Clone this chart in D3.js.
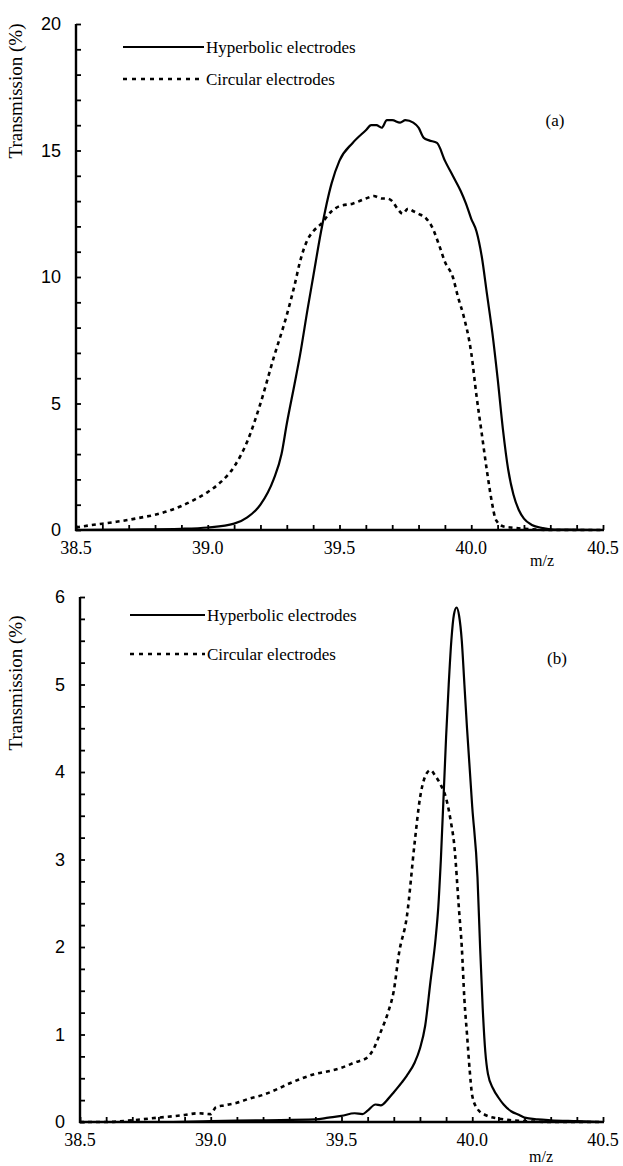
<!DOCTYPE html>
<html>
<head>
<meta charset="utf-8">
<script src="https://cdn.jsdelivr.net/npm/d3@7/dist/d3.min.js"></script>
<style>
  html, body { margin: 0; padding: 0; background: #fff; }
  svg { display: block; }
</style>
</head>
<body>
<svg id="chart" width="623" height="1166"></svg>
<script>
// ---------- Data ----------
const xTickLabels = ["38.5", "39.0", "39.5", "40.0", "40.5"];
const yTicksA = [0, 5, 10, 15, 20];
const yTicksB = [0, 1, 2, 3, 4, 5, 6];
const seriesNames = ["Hyperbolic electrodes", "Circular electrodes"];

// Panel (a) hyperbolic electrodes: [m/z, transmission %]
const hypA_x = [38.5, 38.7, 38.9, 39.0, 39.1, 39.15, 39.2, 39.25, 39.28, 39.3, 39.33, 39.35, 39.38, 39.4, 39.43, 39.47, 39.5, 39.55, 39.6, 39.62, 39.64, 39.66, 39.68, 39.7, 39.73, 39.75, 39.78, 39.8, 39.82, 39.84, 39.87, 39.9, 39.93, 39.96, 39.98, 40.0, 40.02, 40.04, 40.06, 40.08, 40.1, 40.12, 40.14, 40.16, 40.18, 40.2, 40.23, 40.27, 40.3, 40.4, 40.5];
const hypA_y = [0.0, 0.02, 0.05, 0.1, 0.25, 0.5, 1.0, 2.0, 3.0, 4.2, 5.8, 6.9, 8.8, 10.0, 11.8, 13.7, 14.6, 15.3, 15.8, 16.0, 16.0, 15.9, 16.2, 16.2, 16.1, 16.2, 16.1, 15.9, 15.5, 15.4, 15.3, 14.6, 14.0, 13.4, 12.9, 12.3, 11.8, 10.8, 9.3, 7.8, 6.0, 4.0, 2.4, 1.4, 0.8, 0.45, 0.2, 0.08, 0.03, 0.01, 0.0];

// Panel (a) circular electrodes
const cirA_x = [38.5, 38.55, 38.6, 38.65, 38.7, 38.75, 38.8, 38.85, 38.9, 38.95, 39.0, 39.05, 39.1, 39.15, 39.2, 39.25, 39.3, 39.33, 39.35, 39.38, 39.4, 39.43, 39.47, 39.5, 39.55, 39.6, 39.63, 39.66, 39.68, 39.7, 39.72, 39.74, 39.76, 39.78, 39.8, 39.83, 39.85, 39.88, 39.9, 39.93, 39.95, 39.97, 40.0, 40.02, 40.04, 40.06, 40.08, 40.09, 40.1, 40.12, 40.15, 40.2, 40.3, 40.5];
const cirA_y = [0.1, 0.18, 0.25, 0.32, 0.4, 0.5, 0.6, 0.75, 0.95, 1.2, 1.5, 1.9, 2.5, 3.5, 5.0, 6.8, 8.5, 9.7, 10.6, 11.5, 11.8, 12.1, 12.6, 12.8, 12.9, 13.1, 13.2, 13.1, 13.1, 13.0, 12.7, 12.5, 12.7, 12.6, 12.5, 12.3, 12.0, 11.2, 10.6, 10.0, 9.2, 8.5, 7.0, 5.3, 3.8, 2.3, 1.0, 0.5, 0.3, 0.15, 0.1, 0.05, 0.0, 0.0];

// Panel (b) hyperbolic electrodes
const hypB_x = [38.5, 38.8, 39.0, 39.2, 39.4, 39.45, 39.5, 39.55, 39.58, 39.6, 39.63, 39.65, 39.68, 39.7, 39.73, 39.75, 39.78, 39.8, 39.82, 39.84, 39.86, 39.87, 39.88, 39.9, 39.91, 39.92, 39.93, 39.94, 39.95, 39.96, 39.97, 39.98, 40.0, 40.02, 40.03, 40.04, 40.05, 40.06, 40.08, 40.1, 40.12, 40.15, 40.18, 40.2, 40.25, 40.3, 40.4, 40.5];
const hypB_y = [0.0, 0.0, 0.01, 0.02, 0.03, 0.05, 0.07, 0.1, 0.09, 0.13, 0.2, 0.19, 0.27, 0.34, 0.45, 0.53, 0.68, 0.84, 1.1, 1.6, 2.1, 2.45, 3.0, 4.4, 5.0, 5.5, 5.8, 5.88, 5.78, 5.5, 5.0, 4.5, 3.6, 2.8, 2.0, 1.3, 0.8, 0.55, 0.38, 0.28, 0.2, 0.12, 0.08, 0.05, 0.03, 0.02, 0.01, 0.0];

// Panel (b) circular electrodes
const cirB_x = [38.5, 38.6, 38.7, 38.8, 38.9, 38.95, 39.0, 39.02, 39.05, 39.1, 39.15, 39.2, 39.25, 39.3, 39.35, 39.4, 39.45, 39.5, 39.55, 39.6, 39.62, 39.65, 39.68, 39.7, 39.72, 39.75, 39.78, 39.8, 39.82, 39.84, 39.86, 39.88, 39.9, 39.92, 39.93, 39.95, 39.96, 39.97, 39.98, 39.99, 40.0, 40.02, 40.05, 40.1, 40.15, 40.2, 40.3, 40.5];
const cirB_y = [0.0, 0.0, 0.02, 0.05, 0.08, 0.1, 0.09, 0.17, 0.19, 0.22, 0.27, 0.31, 0.37, 0.44, 0.5, 0.55, 0.58, 0.62, 0.68, 0.74, 0.82, 1.03, 1.27, 1.5, 1.93, 2.35, 3.2, 3.7, 3.95, 4.02, 3.95, 3.85, 3.7, 3.4, 3.2, 2.4, 2.0, 1.4, 1.0, 0.6, 0.3, 0.15, 0.08, 0.04, 0.02, 0.01, 0.0, 0.0];

// ---------- Drawing ----------
const svg = d3.select("#chart");
const serif = "'Liberation Serif', 'Times New Roman', serif";
const sans = "'Liberation Sans', Arial, sans-serif";

function zip(xs, ys) { return xs.map((x, i) => [x, ys[i]]); }

function panel(cfg) {
  const x = d3.scaleLinear().domain([38.5, 40.5]).range([cfg.left, cfg.right]);
  const y = d3.scaleLinear().domain([0, cfg.ymax]).range([cfg.bottom, cfg.top]);
  const g = svg.append("g");

  // x axis: minor ticks every 0.1 pointing up
  const xMinor = d3.range(0, 21).map(i => 38.5 + i * 0.1);
  const xAxis = d3.axisBottom(x).tickValues(xMinor).tickSize(-5).tickFormat("");
  const gx = g.append("g").attr("transform", `translate(0,${cfg.bottom})`).call(xAxis);
  gx.select(".domain").attr("stroke", "#000").attr("stroke-width", 2.4).attr("d", `M${cfg.left - 1},0H${cfg.right + 1}`);
  gx.selectAll(".tick line").attr("stroke", "#000").attr("stroke-width", 1.8);
  // x labels
  g.selectAll("text.xl").data(xTickLabels).enter().append("text")
    .attr("class", "xl")
    .attr("x", d => x(+d))
    .attr("y", cfg.bottom + cfg.xLabelDy)
    .attr("text-anchor", "middle")
    .attr("font-family", serif).attr("font-size", 18)
    .text(d => d);
  g.append("text")
    .attr("x", cfg.mzX).attr("y", cfg.bottom + cfg.xLabelDy + cfg.mzDy)
    .attr("text-anchor", "middle")
    .attr("font-family", serif).attr("font-size", 16)
    .text("m/z");

  // y axis: minor ticks pointing right
  const yMinor = d3.range(0, Math.round(cfg.ymax / cfg.yMinorStep) + 1).map(i => i * cfg.yMinorStep);
  const yAxis = d3.axisLeft(y).tickValues(yMinor).tickSize(-5).tickFormat("");
  const gy = g.append("g").attr("transform", `translate(${cfg.left},0)`).call(yAxis);
  gy.select(".domain").attr("stroke", "#000").attr("stroke-width", 2.4).attr("d", `M0,${cfg.top}V${cfg.bottom + 1}`);
  gy.selectAll(".tick line").attr("stroke", "#000").attr("stroke-width", 1.8);
  g.selectAll("text.yl").data(cfg.yTicks).enter().append("text")
    .attr("class", "yl")
    .attr("x", cfg.left - 15)
    .attr("y", d => y(d))
    .attr("dy", "0.35em")
    .attr("text-anchor", "end")
    .attr("font-family", sans).attr("font-size", 18)
    .text(d => d);

  // y title
  g.append("text")
    .attr("transform", `translate(${cfg.titleX},${cfg.titleY}) rotate(-90)`)
    .attr("text-anchor", "middle")
    .attr("font-family", serif).attr("font-size", 19)
    .text("Transmission (%)");

  // lines
  const line = d3.line().x(d => x(d[0])).y(d => y(d[1])).curve(d3.curveMonotoneX);
  g.append("path").datum(zip(cfg.hx, cfg.hy))
    .attr("fill", "none").attr("stroke", "#000").attr("stroke-width", 2.2)
    .attr("stroke-linejoin", "round").attr("d", line);
  g.append("path").datum(zip(cfg.cx, cfg.cy))
    .attr("fill", "none").attr("stroke", "#000").attr("stroke-width", 2.6)
    .attr("stroke-dasharray", "4,4").attr("d", line);

  // legend
  const lg = g.append("g");
  seriesNames.forEach((name, i) => {
    const ly = cfg.legY + i * cfg.legGap;
    lg.append("line")
      .attr("x1", cfg.legX1).attr("x2", cfg.legX2)
      .attr("y1", ly).attr("y2", ly)
      .attr("stroke", "#000").attr("stroke-width", i === 0 ? 2.2 : 2.6)
      .attr("stroke-dasharray", i === 0 ? null : "4,5");
    lg.append("text")
      .attr("x", cfg.legX2 + 2).attr("y", ly).attr("dy", "0.35em")
      .attr("font-family", serif).attr("font-size", 17)
      .text(name);
  });
  g.append("text")
    .attr("x", cfg.tagX).attr("y", cfg.tagY).attr("dy", "0.35em")
    .attr("text-anchor", "middle")
    .attr("font-family", serif).attr("font-size", 17)
    .text(cfg.tag);
}

panel({
  left: 76, right: 603, top: 24, bottom: 530, ymax: 20, yMinorStep: 1,
  yTicks: yTicksA, xLabelDy: 24, mzX: 542, mzDy: 12,
  titleX: 22, titleY: 91,
  hx: hypA_x, hy: hypA_y, cx: cirA_x, cy: cirA_y,
  legX1: 123, legX2: 204, legY: 47, legGap: 32,
  tag: "(a)", tagX: 555, tagY: 120
});

panel({
  left: 80, right: 603, top: 597, bottom: 1122, ymax: 6, yMinorStep: 0.25,
  yTicks: yTicksB, xLabelDy: 24, mzX: 541, mzDy: 16,
  titleX: 22, titleY: 683,
  hx: hypB_x, hy: hypB_y, cx: cirB_x, cy: cirB_y,
  legX1: 130, legX2: 205, legY: 615, legGap: 39,
  tag: "(b)", tagX: 557, tagY: 658
});
</script>
</body>
</html>
